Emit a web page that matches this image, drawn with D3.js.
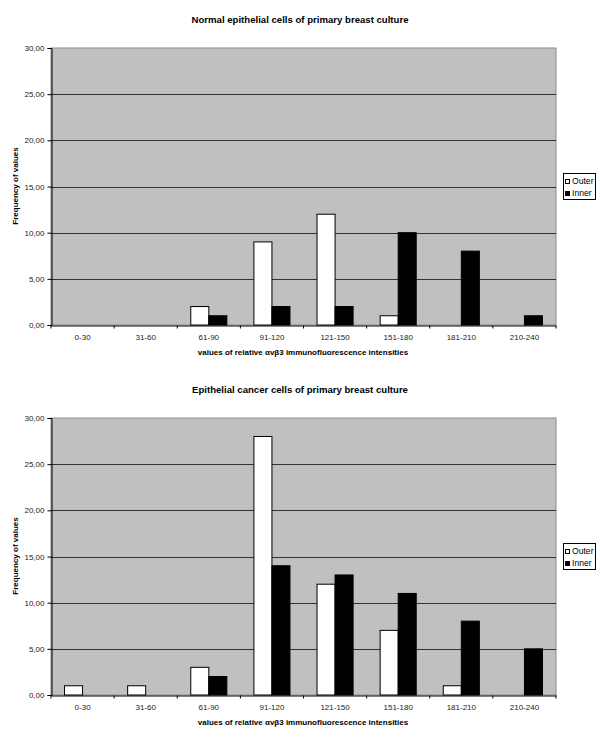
<!DOCTYPE html>
<html lang="en">
<head>
    <meta charset="utf-8">
    <title>avb3 immunofluorescence</title>
    <style>
        * { margin: 0; padding: 0; }
        body { background: #fff; font-family: 'Liberation Sans', Arial, sans-serif; }
        svg text { fill: #000; }
    </style>
</head>
<body>
    <div id="chart"></div>
    <script src="https://d3js.org/d3.v7.min.js"></script>
    <script>
        // categories and series
        var categories = ["0-30", "31-60", "61-90", "91-120", "121-150", "151-180", "181-210", "210-240"];
        var yTicks = [0, 5, 10, 15, 20, 25, 30];
        var seriesNames = ["Outer", "Inner"];

        var normalOuter = [0, 0, 2, 9, 12, 1, 0, 0];
        var normalInner = [0, 0, 1, 2, 2, 10, 8, 1];
        var cancerOuter = [1, 1, 3, 28, 12, 7, 1, 0];
        var cancerInner = [0, 0, 2, 14, 13, 11, 8, 5];

        var charts = [
            { title: "Normal epithelial cells of primary breast culture", outer: normalOuter, inner: normalInner, top: 0 },
            { title: "Epithelial cancer cells of primary breast culture", outer: cancerOuter, inner: cancerInner, top: 370 }
        ];

        var W = 600, H = 738;
        var svg = d3.select("#chart").append("svg")
            .attr("width", W)
            .attr("height", H);

        var fmt = function (d) { return d3.format(".2f")(d).replace(".", ","); };
        var colors = { Outer: "#ffffff", Inner: "#000000" };

        charts.forEach(function (c) {
            var g = svg.append("g").attr("transform", "translate(0," + c.top + ")");

            var x = d3.scaleBand().domain(categories).range([51, 556]);
            var y = d3.scaleLinear().domain([0, 30]).range([325, 48]);
            var barW = x.bandwidth() / 3.5;

            // plot area
            g.append("rect")
                .attr("x", x.range()[0]).attr("y", y(30))
                .attr("width", x.range()[1] - x.range()[0]).attr("height", y(0) - y(30))
                .style("fill", "#c0c0c0")
                .style("stroke", "#8c8c8c")
                .style("stroke-width", 1);

            // gridlines
            g.selectAll(".grid")
                .data(yTicks.filter(function (d) { return d > 0 && d < 30; }))
                .enter().append("line")
                .attr("x1", x.range()[0]).attr("x2", x.range()[1])
                .attr("y1", function (d) { return Math.round(y(d)) + 0.5; })
                .attr("y2", function (d) { return Math.round(y(d)) + 0.5; })
                .style("stroke", "#333")
                .style("stroke-width", 1);

            // bars
            var rows = categories.map(function (cat, i) {
                return { cat: cat, Outer: c.outer[i], Inner: c.inner[i] };
            });
            seriesNames.forEach(function (s, k) {
                g.selectAll(".bar" + s)
                    .data(rows.filter(function (r) { return r[s] > 0; }))
                    .enter().append("rect")
                    .attr("x", function (d) { return x(d.cat) + x.bandwidth() / 2 - barW + k * barW; })
                    .attr("y", function (d) { return y(d[s]); })
                    .attr("width", barW)
                    .attr("height", function (d) { return y(0) - y(d[s]); })
                    .style("fill", colors[s])
                    .style("stroke", "#000")
                    .style("stroke-width", 1);
            });

            // y axis
            var yAxis = g.append("g")
                .attr("transform", "translate(" + (x.range()[0] + 0.5) + ",0)")
                .call(d3.axisLeft(y).tickValues(yTicks).tickFormat(fmt).tickSize(4).tickPadding(3));
            yAxis.select(".domain").style("stroke", "#000");
            yAxis.selectAll("text")
                .style("font-size", "8px")
                .style("font-family", "'Liberation Sans', Arial, sans-serif")
                .style("fill", "#222");

            // x axis with ticks on category borders
            var xAxis = g.append("g")
                .attr("transform", "translate(0," + (Math.round(y(0)) + 0.5) + ")")
                .call(d3.axisBottom(x).tickSize(0).tickPadding(9));
            xAxis.select(".domain").style("stroke", "#000");
            xAxis.selectAll("text")
                .style("font-size", "8px")
                .style("font-family", "'Liberation Sans', Arial, sans-serif")
                .style("fill", "#222");
            xAxis.selectAll(".border")
                .data(categories.concat(["end"]))
                .enter().append("line")
                .attr("x1", function (d, i) { return x.range()[0] + i * x.step(); })
                .attr("x2", function (d, i) { return x.range()[0] + i * x.step(); })
                .attr("y1", 0).attr("y2", 3)
                .style("stroke", "#000");

            // titles
            g.append("text")
                .attr("x", 300).attr("y", 23)
                .attr("text-anchor", "middle")
                .style("font-size", "9.6px")
                .style("font-weight", "bold")
                .text(c.title);

            g.append("text")
                .attr("x", 303).attr("y", 355)
                .attr("text-anchor", "middle")
                .style("font-size", "8px")
                .style("font-weight", "bold")
                .text("values of relative \u03b1v\u03b23 immunofluorescence intensities");

            g.append("text")
                .attr("transform", "translate(18,186) rotate(-90)")
                .attr("text-anchor", "middle")
                .style("font-size", "8px")
                .style("font-weight", "bold")
                .text("Frequency of values");

            // legend
            var lg = g.append("g").attr("transform", "translate(563,173)");
            lg.append("rect")
                .attr("x", 0.5).attr("y", 0.5)
                .attr("width", 32).attr("height", 26)
                .style("fill", "#fff")
                .style("stroke", "#000");
            seriesNames.forEach(function (s, k) {
                lg.append("rect")
                    .attr("x", 2.5).attr("y", 6.5 + k * 12)
                    .attr("width", 4).attr("height", 4)
                    .style("fill", colors[s])
                    .style("stroke", "#000");
                lg.append("text")
                    .attr("x", 9).attr("y", 11 + k * 12)
                    .style("font-size", "8.6px")
                    .text(s);
            });
        });
    </script>
</body>
</html>
